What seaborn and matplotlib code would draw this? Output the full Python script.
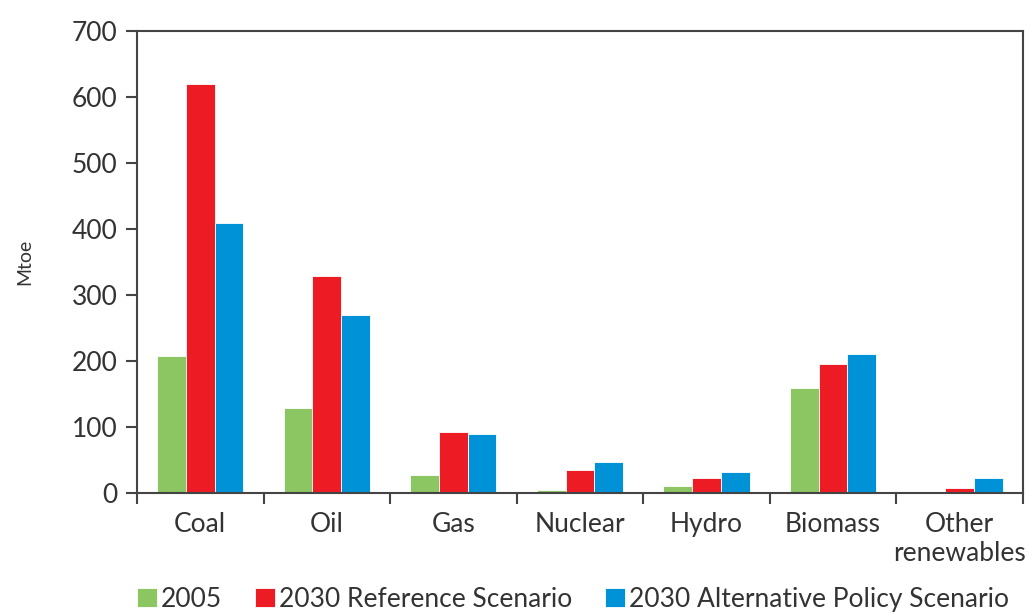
import seaborn as sns
import matplotlib.pyplot as plt
import pandas as pd

categorias = ["Coal", "Oil", "Gas", "Nuclear", "Hydro", "Biomass", "Other\nrenewables"]
series = ["2005", "2030 Reference Scenario", "2030 Alternative Policy Scenario"]
valores_2005 = [207, 129, 27, 4, 10, 159, 0]
valores_ref = [620, 329, 92, 35, 22, 195, 7]
valores_alt = [410, 270, 89, 47, 32, 210, 22]
colores = ["#8cc663", "#ed1c24", "#0092d6"]

# tabla larga para seaborn
df = pd.DataFrame({
    "cat": categorias * 3,
    "serie": [series[0]] * 7 + [series[1]] * 7 + [series[2]] * 7,
    "Mtoe": valores_2005 + valores_ref + valores_alt,
})

sns.set_style("white")
plt.rcParams["font.family"] = ["Lato", "DejaVu Sans"]
texto = "#333333"

fig = plt.figure(figsize=(10.27, 6.13), dpi=100)
ax = fig.add_axes([0.1334, 0.1958, 0.8626, 0.7532])

sns.barplot(data=df, x="cat", y="Mtoe", hue="serie", palette=colores,
            width=0.68, gap=0, saturation=1, edgecolor="white", linewidth=0.6,
            ax=ax)

ax.set_ylim(0, 700)
ax.set_xlim(-0.5, len(categorias) - 0.5)
ax.set_yticks(range(0, 701, 100))
ax.set_xlabel("")
ax.set_ylabel("Mtoe", fontsize=14, color=texto, labelpad=28)

# ticks: etiquetas sin marca, marcas entre categorias
ax.tick_params(axis="x", which="major", length=0, pad=14, labelsize=19, labelcolor=texto)
ax.set_xticks([i + 0.5 for i in range(-1, len(categorias))], minor=True)
ax.tick_params(axis="x", which="minor", length=8, width=1.5, color="#444444", direction="out")
ax.tick_params(axis="y", length=8, width=1.5, color="#444444", direction="out",
               labelsize=19, labelcolor=texto, pad=6)
ax.yaxis.set_ticks_position("left")
ax.xaxis.set_ticks_position("bottom")

for lado in ax.spines.values():
    lado.set_visible(True)
    lado.set_color("#444444")
    lado.set_linewidth(1.5)

ax.legend(loc="upper left", bbox_to_anchor=(-0.012, -0.18), ncol=3, frameon=False,
          fontsize=19, handlelength=0.75, handleheight=0.75, handletextpad=0.15,
          columnspacing=1.25, borderaxespad=0, labelcolor=texto)

plt.savefig("out.png", dpi=100)
plt.close()
